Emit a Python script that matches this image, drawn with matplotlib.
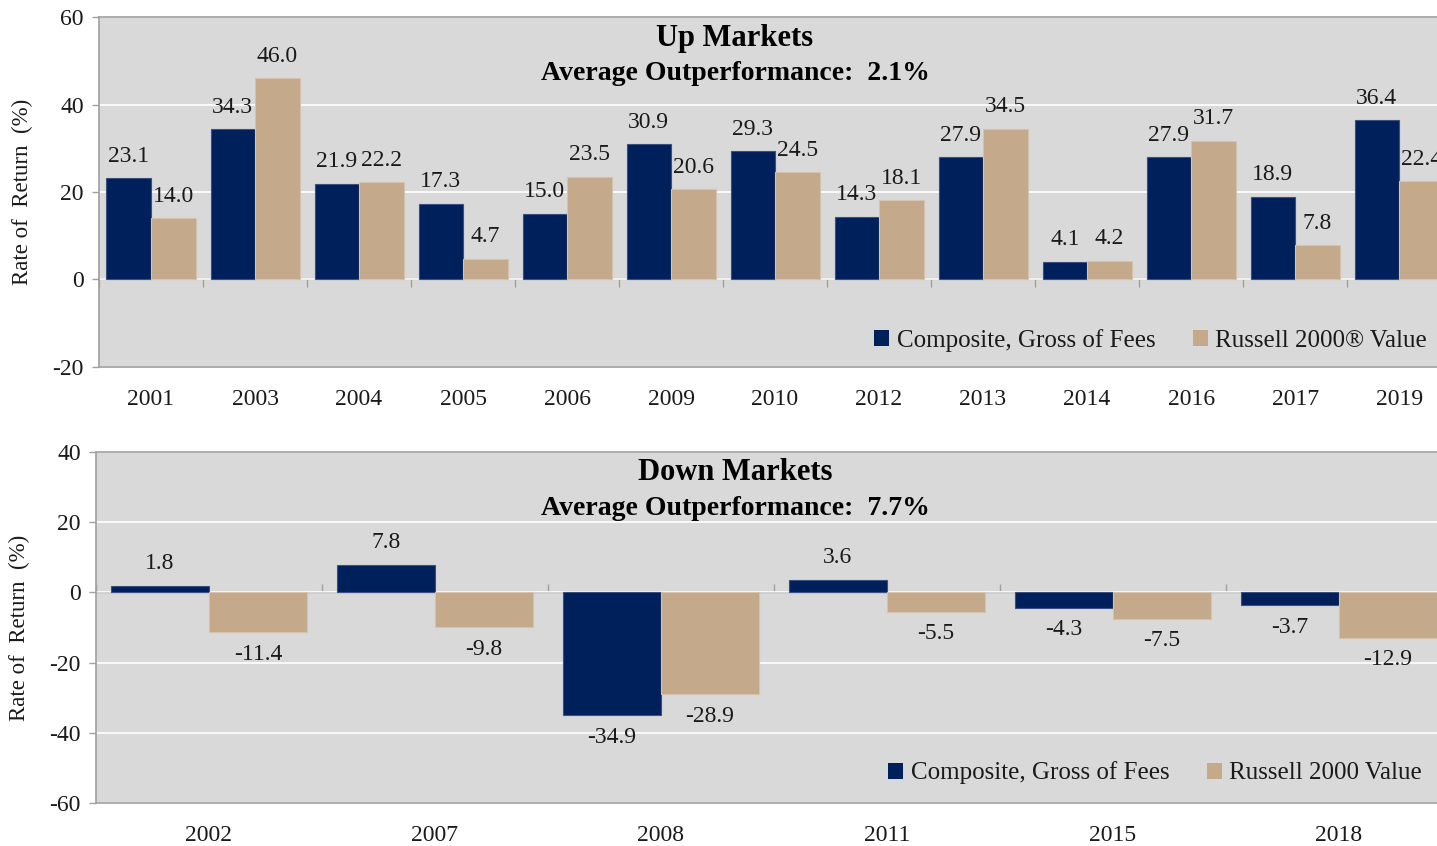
import numpy as np
import matplotlib
matplotlib.use("Agg")
import matplotlib.pyplot as plt
from matplotlib.patches import Patch

plt.rcParams['font.family'] = ['Liberation Serif', 'DejaVu Serif']
plt.rcParams['axes.unicode_minus'] = False

# ---- data ----
up_years = ['2001', '2003', '2004', '2005', '2006', '2009', '2010',
            '2012', '2013', '2014', '2016', '2017', '2019']
up_composite = [23.1, 34.3, 21.9, 17.3, 15.0, 30.9, 29.3, 14.3, 27.9, 4.1, 27.9, 18.9, 36.4]
up_russell = [14.0, 46.0, 22.2, 4.7, 23.5, 20.6, 24.5, 18.1, 34.5, 4.2, 31.7, 7.8, 22.4]

down_years = ['2002', '2007', '2008', '2011', '2015', '2018']
down_composite = [1.8, 7.8, -34.9, 3.6, -4.3, -3.7]
down_russell = [-11.4, -9.8, -28.9, -5.5, -7.5, -12.9]

NAVY = '#00205c'
TAN = '#c4a98b'
BG = '#d9d9d9'
AXIS_GRAY = '#a0a0a0'
TEXT = '#1a1a1a'


def label_bars(ax, bars, values):
    # value above positive bars, below negative ones
    for rect, v in zip(bars, values):
        xc = rect.get_x() + rect.get_width() / 2
        off = 16 if v >= 0 else -16
        ax.annotate(f'{v:.1f}', (xc, v), xytext=(0, off),
                    textcoords='offset points', ha='center', va='center',
                    fontsize=17, color=TEXT, zorder=5)


def draw_panel(ax, years, comp, russ, ylim, yticks, bar_w, title, subtitle,
               title_y, russell_name, legend_anchor):
    x = np.arange(len(years))
    ax.set_facecolor(BG)
    b1 = ax.bar(x - bar_w / 2, comp, bar_w, color=NAVY, edgecolor='#3b5080',
                linewidth=0.8, zorder=3)
    b2 = ax.bar(x + bar_w / 2, russ, bar_w, color=TAN, edgecolor='#d6c3ad',
                linewidth=0.8, zorder=3)
    label_bars(ax, b1, comp)
    label_bars(ax, b2, russ)

    ax.set_xlim(-0.5, len(years) - 0.5)
    ax.set_ylim(*ylim)
    ax.set_yticks(yticks)
    ax.set_xticks(x)
    ax.set_xticklabels(years)
    ax.tick_params(axis='x', length=0, pad=16, labelsize=17, labelcolor=TEXT)
    ax.tick_params(axis='y', length=5, width=1, color=AXIS_GRAY, pad=6,
                   labelsize=17, labelcolor=TEXT)

    ax.yaxis.grid(True, color='white', linewidth=1.2)
    ax.set_axisbelow(True)
    for side in ['left', 'top', 'bottom', 'right']:
        ax.spines[side].set_color(AXIS_GRAY)
        ax.spines[side].set_linewidth(1.2)

    # zero line with category divider ticks
    zero_frac = (0 - ylim[0]) / (ylim[1] - ylim[0])
    sec = ax.secondary_xaxis(zero_frac)
    sec.set_xticks(np.arange(len(years) + 1) - 0.5)
    sec.tick_params(length=6, width=1, color=AXIS_GRAY, labelbottom=False,
                    labeltop=False, direction='out')
    sec.spines['bottom'].set_color(AXIS_GRAY)
    sec.spines['bottom'].set_linewidth(1.5)
    sec.spines['bottom'].set_zorder(4)

    ax.set_ylabel('Rate of  Return  (%)', fontsize=16.5, color=TEXT, labelpad=14)

    fig = ax.figure
    fig.text(0.5115, title_y, title, ha='center', va='center',
             fontsize=22, fontweight='bold', color='black')
    fig.text(0.5115, title_y - 0.042, subtitle, ha='center', va='center',
             fontsize=20, fontweight='bold', color='black')

    handles = [Patch(facecolor=NAVY, edgecolor='none'),
               Patch(facecolor=TAN, edgecolor='none')]
    ax.legend(handles, ['Composite, Gross of Fees', russell_name],
              loc='center right', bbox_to_anchor=legend_anchor,
              bbox_transform=fig.transFigure, ncol=2, frameon=False,
              fontsize=18, handlelength=0.6, handleheight=0.6,
              handletextpad=0.3, columnspacing=1.5, labelcolor=TEXT,
              borderpad=0, borderaxespad=0)


fig = plt.figure(figsize=(14.37, 8.46), dpi=100)
ax_up = fig.add_axes([0.0689, 0.5662, 0.9409, 0.4137])
ax_down = fig.add_axes([0.0668, 0.0508, 0.9436, 0.4149])

draw_panel(ax_up, up_years, up_composite, up_russell, (-20, 60),
           [-20, 0, 20, 40, 60], 0.428, 'Up Markets',
           'Average Outperformance:  2.1%', 0.955,
           'Russell 2000\u00ae Value', (0.993, 0.598))
draw_panel(ax_down, down_years, down_composite, down_russell, (-60, 40),
           [-60, -40, -20, 0, 20, 40], 0.434, 'Down Markets',
           'Average Outperformance:  7.7%', 0.441,
           'Russell 2000 Value', (0.9895, 0.0863))

fig.savefig('out.png', dpi=100)
